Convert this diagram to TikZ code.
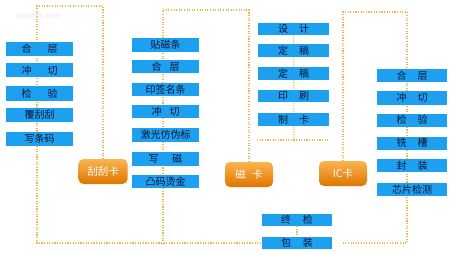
\documentclass[tikz,border=0pt]{standalone}
\usepackage{fontspec}
\setmainfont{Liberation Sans}
\newfontfamily\cjk{Noto Sans CJK SC}
\usetikzlibrary{backgrounds}

\definecolor{boxblue}{RGB}{30,160,240}
\definecolor{boxtext}{RGB}{10,20,50}
\definecolor{cardtop}{RGB}{250,180,80}
\definecolor{cardbot}{RGB}{222,118,0}
\definecolor{dotgold}{RGB}{238,182,72}

\tikzset{
  procbox/.style={fill=boxblue, minimum width=67pt, minimum height=14pt, inner sep=0pt,
    font=\cjk\fontsize{10}{10}\selectfont, text=boxtext},
  cardbox/.style={rounded corners=5pt, top color=cardtop, bottom color=cardbot,
    minimum width=49pt, minimum height=25pt, inner sep=0pt,
    font=\cjk\fontsize{10.5}{11}\selectfont, text=white},
  dotline/.style={draw=dotgold, line width=1.1pt, dash pattern=on 1.1pt off 1.5pt}
}

\begin{document}
\begin{tikzpicture}[x=1pt, y=-1pt]
    \useasboundingbox (0,0) rectangle (450,254);

    % Watermark
    \node[text=black!9, font=\fontsize{8}{8}\selectfont] (wm) at (38,16) {zingbox.com};

    % Scratch card steps
    \node[procbox] (l1) at (39.5,49) {合\hspace{1.6em}层};
    \node[procbox] (l2) at (39.5,70.5) {冲\hspace{1.6em}切};
    \node[procbox] (l3) at (39.5,93.5) {检\hspace{1.6em}验};
    \node[procbox] (l4) at (39.5,115) {覆刮刮};
    \node[procbox] (l5) at (39.5,139) {写条码};
    \node[cardbox] (gk) at (103,171.5) {刮刮卡};

    % Magnetic card steps
    \node[procbox, minimum height=13.5pt] (m1) at (165.5,45) {贴磁条};
    \node[procbox, minimum height=13.5pt] (m2) at (165.5,66.5) {合\hspace{0.8em}层};
    \node[procbox, minimum height=13.5pt] (m3) at (165.5,89.5) {印签名条};
    \node[procbox, minimum height=13.5pt] (m4) at (165.5,111.5) {冲\hspace{0.8em}切};
    \node[procbox, minimum height=13.5pt] (m5) at (165.5,135) {激光仿伪标};
    \node[procbox, minimum height=13.5pt] (m6) at (165.5,159) {写\hspace{1.4em}磁};
    \node[procbox, minimum height=13.5pt] (m7) at (165.5,181.5) {凸码烫金};
    \node[cardbox, minimum width=48pt] (mk) at (249,174.5) {磁\hspace{0.6em}卡};

    % Common steps
    \node[procbox, minimum width=71pt, minimum height=12.5pt] (d1) at (293.5,29) {设\hspace{1.1em}计};
    \node[procbox, minimum width=71pt, minimum height=12.5pt] (d2) at (293.5,50.5) {定\hspace{1.1em}稿};
    \node[procbox, minimum width=71pt, minimum height=12.5pt] (d3) at (293.5,73.5) {定\hspace{1.1em}稿};
    \node[procbox, minimum width=71pt, minimum height=12.5pt] (d4) at (293.5,96) {印\hspace{1.1em}刷};
    \node[procbox, minimum width=71pt, minimum height=12.5pt] (d5) at (293.5,119.5) {制\hspace{1.1em}卡};
    \coordinate (dsplit) at (294,140);
    \coordinate (dl) at (257,140);
    \coordinate (dr) at (329,140);

    % IC card steps
    \node[procbox, minimum width=70pt, minimum height=13pt] (r1) at (412,75.5) {合\hspace{1.1em}层};
    \node[procbox, minimum width=70pt, minimum height=13pt] (r2) at (412,98) {冲\hspace{1.1em}切};
    \node[procbox, minimum width=70pt, minimum height=13pt] (r3) at (412,120) {检\hspace{1.1em}验};
    \node[procbox, minimum width=70pt, minimum height=13pt] (r4) at (412,143) {铣\hspace{1.1em}槽};
    \node[procbox, minimum width=70pt, minimum height=13pt] (r5) at (412,165.5) {封\hspace{1.1em}装};
    \node[procbox, minimum width=70pt, minimum height=13pt] (r6) at (412,189.5) {芯片检测};
    \node[cardbox, minimum width=48pt] (ic) at (343,173.5) {IC卡};

    % Final steps
    \node[procbox, minimum width=70pt, minimum height=12pt] (zj) at (297,220) {终\hspace{1.2em}检};
    \node[procbox, minimum width=70pt, minimum height=12pt] (bz) at (297,243) {包\hspace{1.2em}装};

    % Dotted flow lines
    \coordinate (ltop) at (37,6);
    \coordinate (mtop) at (163,10);
    \coordinate (rtop) at (407,12);
    \coordinate (rbot) at (343,243);
    \begin{scope}[on background layer]
        \fill[white] (0,0) rectangle (450,254);
        \draw[dotline] (gk.north) |- (ltop) |- (bz.west);
        \draw[dotline] (mk.north) |- (mtop) -- (mtop |- bz.west);
        \draw[dotline] (ic.north) |- (rtop) |- (rbot);
        \draw[dotline] (d1) -- (dsplit);
        \draw[dotline] (dl) -- (dr);
        \draw[dotline] (zj) -- (bz);
    \end{scope}
\end{tikzpicture}
\end{document}
